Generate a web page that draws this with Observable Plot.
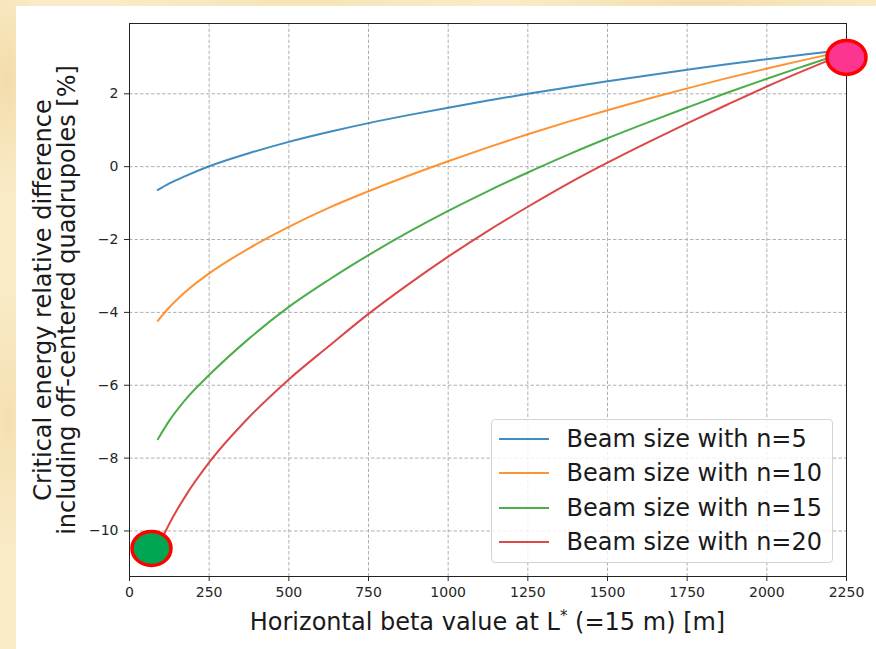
<!DOCTYPE html>
<html><head><meta charset="utf-8">
<script src="https://cdn.jsdelivr.net/npm/d3@7"></script>
<script src="https://cdn.jsdelivr.net/npm/@observablehq/plot@0.6"></script>
<style>
html,body{margin:0;padding:0;}
body{width:876px;height:649px;overflow:hidden;position:relative;font-family:"DejaVu Sans",sans-serif;
 background:
  radial-gradient(ellipse 40px 120px at 6px 80px, #f3dcaa 0%, rgba(243,220,170,0) 100%),
  radial-gradient(ellipse 40px 140px at 8px 420px, #f4dfb0 0%, rgba(244,223,176,0) 100%),
  radial-gradient(ellipse 200px 10px at 300px 2px, #f6e2b6 0%, rgba(246,226,182,0) 100%),
  radial-gradient(ellipse 200px 10px at 700px 3px, #f3ddae 0%, rgba(243,221,174,0) 100%),
  #faecc9;}
#panel{position:absolute;left:16px;top:6px;width:860px;height:643px;background:#fff;}
#chart{position:absolute;left:0;top:0;}
#labels{position:absolute;left:0;top:0;pointer-events:none;}
#legend{position:absolute;left:490.5px;top:419px;width:342px;height:144px;box-sizing:border-box;
 border:1px solid #d4d4d4;border-radius:4px;background:rgba(255,255,255,0.8);}
.row{position:absolute;left:0;height:34px;display:flex;align-items:center;}
.row svg{margin-left:7px;}
.row span{margin-left:18px;font-size:24px;color:#1a1a1a;white-space:nowrap;}
</style></head><body>
<div id="panel"></div>
<div id="chart"></div>
<svg id="labels" width="876" height="649"></svg>
<div id="legend"></div>
<script>
// Horizontal beta value at L* [m]
const betas = [89, 125, 175, 250, 375, 500, 625, 750, 875, 1000, 1125, 1250, 1375, 1500, 1625, 1750, 1875, 2000, 2125, 2250];
// Critical energy relative difference [%]
const n5  = [-0.64, -0.46, -0.26, 0.01, 0.37, 0.68, 0.95, 1.195, 1.415, 1.62, 1.815, 2.00, 2.175, 2.345, 2.505, 2.66, 2.81, 2.95, 3.085, 3.21];
const n10 = [-4.23, -3.86, -3.44, -2.93, -2.24, -1.65, -1.13, -0.675, -0.25, 0.15, 0.53, 0.89, 1.23, 1.55, 1.857, 2.15, 2.43, 2.695, 2.945, 3.18];
const n15 = [-7.48, -6.97, -6.40, -5.72, -4.72, -3.85, -3.11, -2.43, -1.80, -1.215, -0.67, -0.16, 0.325, 0.78, 1.21, 1.625, 2.03, 2.415, 2.785, 3.15];
const n20 = [-10.45, -9.80, -9.05, -8.12, -6.88, -5.84, -4.93, -4.04, -3.23, -2.47, -1.76, -1.10, -0.47, 0.11, 0.66, 1.19, 1.70, 2.20, 2.67, 3.12];
const seriesNames = ["Beam size with n=5", "Beam size with n=10", "Beam size with n=15", "Beam size with n=20"];
const seriesColors = ["#1f77b4", "#ff7f0e", "#2ca02c", "#d62728"];
const xTicks = [0, 250, 500, 750, 1000, 1250, 1500, 1750, 2000, 2250];
const yTicks = [-10, -8, -6, -4, -2, 0, 2];
// highlighted points
const markerBeta = [69, 2250];
const markerValue = [-10.48, 3.0];
const markerFill = ["#00a651", "#fb3590"];

const allSeries = [n5, n10, n15, n20];
const rows = [];
allSeries.forEach((vals, s) => vals.forEach((v, i) => rows.push({beta: betas[i], value: v, series: seriesNames[s], color: seriesColors[s]})));
const markers = markerBeta.map((b, i) => ({beta: b, value: markerValue[i], fill: markerFill[i]}));

const ellipse = {draw(ctx) {
  const rx = 19.5, ry = 17, k = 0.5523;
  ctx.moveTo(rx, 0);
  ctx.bezierCurveTo(rx, ry * k, rx * k, ry, 0, ry);
  ctx.bezierCurveTo(-rx * k, ry, -rx, ry * k, -rx, 0);
  ctx.bezierCurveTo(-rx, -ry * k, -rx * k, -ry, 0, -ry);
  ctx.bezierCurveTo(rx * k, -ry, rx, -ry * k, rx, 0);
  ctx.closePath();
}};

const fmt = d => d < 0 ? "\u2212" + Math.abs(d) : String(d);

const chart = Plot.plot({
  width: 876, height: 649,
  marginLeft: 129, marginRight: 30, marginTop: 23, marginBottom: 73,
  x: {domain: [0, 2250]},
  y: {domain: [-11.25, 3.93]},
  color: {type: "identity"},
  style: {fontFamily: "DejaVu Sans", fontSize: "14px", background: "transparent", color: "#262626"},
  marks: [
    Plot.gridX(xTicks, {stroke: "#b0b0b0", strokeOpacity: 1, strokeWidth: 1, strokeDasharray: "3.5,2"}),
    Plot.gridY(yTicks, {stroke: "#b0b0b0", strokeOpacity: 1, strokeWidth: 1, strokeDasharray: "3.5,2"}),
    Plot.line(rows, {x: "beta", y: "value", z: "series", stroke: "color", strokeWidth: 2, strokeOpacity: 0.85, curve: "monotone-x"}),
    Plot.frame({stroke: "#222", strokeWidth: 1}),
    Plot.axisX(xTicks, {tickSize: 5, tickPadding: 6, label: null, tickFormat: fmt, fontSize: 14}),
    Plot.axisY(yTicks, {tickSize: 5, tickPadding: 6, label: null, tickFormat: fmt, fontSize: 14}),
    Plot.dot(markers, {x: "beta", y: "value", fill: "fill", stroke: "#ff0000", strokeWidth: 3.5, symbol: ellipse})
  ]
});
document.getElementById("chart").appendChild(chart);

// axis labels
const lab = d3.select("#labels");
const xl = lab.append("text").attr("x", 487.5).attr("y", 630).attr("text-anchor", "middle")
  .attr("font-size", 24).attr("fill", "#1a1a1a").attr("font-family", "DejaVu Sans");
xl.append("tspan").text("Horizontal beta value at L");
xl.append("tspan").attr("font-size", 15).attr("dy", -9).text("*");
xl.append("tspan").attr("dy", 9).text(" (=15 m) [m]");
const yLines = ["Critical energy relative difference", "including off-centered quadrupoles [%]"];
const yBase = [51, 75];
yLines.forEach((t, i) => {
  lab.append("text").attr("transform", `translate(${yBase[i]},300) rotate(-90)`).attr("text-anchor", "middle")
    .attr("font-size", 24).attr("fill", "#1a1a1a").attr("font-family", "DejaVu Sans").text(t);
});

// legend
const leg = document.getElementById("legend");
const rowCenters = [18.5, 52.5, 87.5, 121.5];
seriesNames.forEach((name, i) => {
  const r = document.createElement("div");
  r.className = "row";
  r.style.top = (rowCenters[i] - 17) + "px";
  r.innerHTML = `<svg width="50" height="6"><line x1="0" x2="50" y1="3" y2="3" stroke="${seriesColors[i]}" stroke-opacity="0.85" stroke-width="2.2"/></svg><span>${name}</span>`;
  leg.appendChild(r);
});
</script>
</body></html>
